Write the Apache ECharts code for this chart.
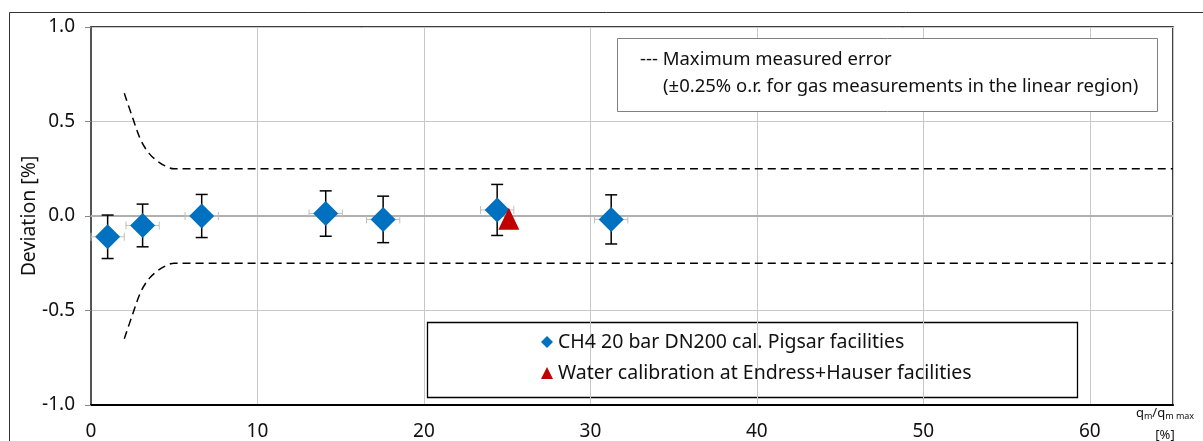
<!DOCTYPE html>
<html>
<head>
<meta charset="utf-8">
<script src="https://cdn.jsdelivr.net/npm/echarts@6/dist/echarts.min.js"></script>
<style>
html,body{margin:0;padding:0;background:#fff;}
#chart{width:1203px;height:441px;}
</style>
</head>
<body>
<div id="chart"></div>
<script>
// ---- data ----
const gasX    = [1.0, 3.1, 6.65, 14.1, 17.55, 24.4, 31.25];
const gasY    = [-0.11, -0.05, 0.0, 0.013, -0.018, 0.032, -0.018];
const gasErrY = [0.115, 0.113, 0.114, 0.12, 0.123, 0.135, 0.13];
const gasErrX = [1.0, 1.0, 1.0, 1.0, 1.0, 1.0, 1.0];
const waterX  = [25.1];
const waterY  = [-0.015];
const limitX     = [2.0, 2.5, 3.0, 3.5, 4.0, 4.5, 5.0, 65];
const limitUpper = [0.65, 0.52, 0.40, 0.33, 0.29, 0.263, 0.25, 0.25];
const limitLower = [-0.65, -0.52, -0.40, -0.33, -0.29, -0.263, -0.25, -0.25];
const xTicks = [0, 10, 20, 30, 40, 50, 60];
const yTicks = [-1.0, -0.5, 0.0, 0.5, 1.0];
const gasName = 'CH4 20 bar DN200 cal. Pigsar facilities';
const waterName = 'Water calibration at Endress+Hauser facilities';

const FONT = 'Noto Sans';
const FS = 19;
const chart = echarts.init(document.getElementById('chart'));

const errData = gasX.map((x, i) => [x, gasY[i], gasErrY[i], gasErrX[i]]);

function renderErr(params, api) {
  const x = api.value(0), y = api.value(1), ey = api.value(2), ex = api.value(3);
  const pTop = api.coord([x, y + ey]);
  const pBot = api.coord([x, y - ey]);
  const pL = api.coord([x - ex, y]);
  const pR = api.coord([x + ex, y]);
  const cw = 6, ch = 4;
  const gray = {stroke: '#BFBFBF', lineWidth: 1};
  const blk = {stroke: '#000', lineWidth: 1.5};
  return {
    type: 'group',
    children: [
      {type: 'line', shape: {x1: pL[0], y1: pL[1], x2: pR[0], y2: pR[1]}, style: gray},
      {type: 'line', shape: {x1: pL[0], y1: pL[1] - ch, x2: pL[0], y2: pL[1] + ch}, style: gray},
      {type: 'line', shape: {x1: pR[0], y1: pR[1] - ch, x2: pR[0], y2: pR[1] + ch}, style: gray},
      {type: 'line', shape: {x1: pTop[0], y1: pTop[1], x2: pBot[0], y2: pBot[1]}, style: blk},
      {type: 'line', shape: {x1: pTop[0] - cw, y1: pTop[1], x2: pTop[0] + cw, y2: pTop[1]}, style: blk},
      {type: 'line', shape: {x1: pBot[0] - cw, y1: pBot[1], x2: pBot[0] + cw, y2: pBot[1]}, style: blk}
    ]
  };
}

const option = {
  animation: false,
  textStyle: {fontFamily: FONT},
  grid: {left: 91, top: 27, right: 30, bottom: 36, outerBoundsMode: 'none', containLabel: false,
    show: true, borderColor: '#000', borderWidth: 1.5, backgroundColor: 'transparent'},
  xAxis: {
    type: 'value', min: 0, max: 65, interval: 10,
    axisLine: {show: true, onZero: false, lineStyle: {color: '#000', width: 2}},
    axisTick: {show: false},
    axisLabel: {color: '#111', fontSize: FS, margin: 17, fontFamily: FONT,
      customValues: xTicks},
    splitLine: {show: true, lineStyle: {color: '#C8C8C8', width: 1}}
  },
  yAxis: {
    type: 'value', min: -1, max: 1, interval: 0.5,
    name: 'Deviation [%]', nameLocation: 'middle', nameGap: 52, nameMoveOverlap: false,
    nameTextStyle: {fontSize: 19.5, color: '#111', fontFamily: FONT},
    axisLine: {show: true, onZero: false, lineStyle: {color: '#555', width: 2}},
    axisTick: {show: true, length: 6, lineStyle: {color: '#888'}},
    axisLabel: {color: '#111', fontSize: FS, margin: 16, fontFamily: FONT,
      customValues: yTicks, formatter: v => v.toFixed(1)},
    splitLine: {show: true, lineStyle: {color: '#C8C8C8', width: 1}}
  },
  legend: {
    show: true, orient: 'vertical', left: 541, top: 332,
    itemWidth: 12, itemHeight: 12, itemGap: 11, padding: 0,
    textStyle: {fontSize: 19.5, color: '#111', fontFamily: FONT},
    data: [{name: gasName, icon: 'diamond'}, {name: waterName, icon: 'triangle'}]
  },
  series: [
    {
      type: 'line', data: [[0, 0], [65, 0]], symbol: 'none', silent: true,
      lineStyle: {color: '#B0B0B0', width: 2}, z: 1
    },
    {
      type: 'line', data: limitX.map((x, i) => [x, limitUpper[i]]), symbol: 'none', smooth: 0.35,
      lineStyle: {color: '#000', width: 1.5, type: [8, 5]}, z: 2
    },
    {
      type: 'line', data: limitX.map((x, i) => [x, limitLower[i]]), symbol: 'none', smooth: 0.35,
      lineStyle: {color: '#000', width: 1.5, type: [8, 5]}, z: 2
    },
    {
      type: 'custom', renderItem: renderErr, data: errData, z: 3,
      encode: {x: 0, y: 1}
    },
    {
      name: gasName, type: 'scatter', data: gasX.map((x, i) => [x, gasY[i]]),
      symbol: 'diamond', symbolSize: 25, itemStyle: {color: '#0070C0', opacity: 1}, z: 4
    },
    {
      name: waterName, type: 'scatter', data: waterX.map((x, i) => [x, waterY[i]]),
      symbol: 'triangle', symbolSize: [21, 22], itemStyle: {color: '#C00000', opacity: 1}, z: 5
    }
  ],
  graphic: [
    {type: 'rect', left: 7, top: 10, shape: {width: 1400, height: 600}, style: {fill: 'none', stroke: '#333', lineWidth: 1}, silent: true},
    {type: 'rect', shape: {x: 617.5, y: 38.5, width: 540, height: 73}, style: {fill: '#fff', stroke: '#808080', lineWidth: 1}, z: 10},
    {type: 'text', x: 640, y: 60, style: {text: '--- Maximum measured error', fontSize: 18.5, fontFamily: FONT, fill: '#111', verticalAlign: 'middle'}, z: 11},
    {type: 'text', x: 663, y: 87, style: {text: '(±0.25% o.r. for gas measurements in the linear region)', fontSize: 18.5, fontFamily: FONT, fill: '#111', verticalAlign: 'middle'}, z: 11},
    {type: 'rect', shape: {x: 427.5, y: 322.5, width: 650, height: 75}, style: {fill: '#fff', stroke: '#000', lineWidth: 1.3}, z: 0},
    {type: 'text', x: 1165, y: 413, style: {
      text: '{q|q}{s|m}{q|/q}{s|m max}', align: 'center', verticalAlign: 'middle',
      rich: {q: {fontSize: 13, fontFamily: FONT, fill: '#111'}, s: {fontSize: 9, fontFamily: FONT, fill: '#111', padding: [6, 0, 0, 0]}}
    }, z: 11},
    {type: 'text', x: 1165, y: 435, style: {text: '[%]', align: 'center', verticalAlign: 'middle', fontSize: 13, fontFamily: FONT, fill: '#111'}, z: 11}
  ]
};
chart.setOption(option);
</script>
</body>
</html>
